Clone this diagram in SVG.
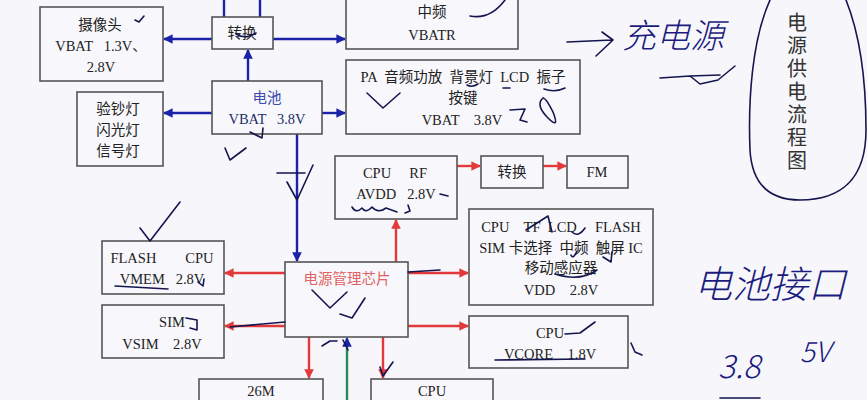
<svg xmlns="http://www.w3.org/2000/svg" width="867" height="400" viewBox="0 0 867 400" xml:space="preserve">
<style>
.bg{fill:#f7f7fb}
.box{fill:#f8f8fc;stroke:#555;stroke-width:1.6}
.t{font-family:"Liberation Serif","Noto Sans CJK SC",serif;font-size:14.5px;fill:#222;text-anchor:middle;white-space:pre}
.blu{stroke:#1a22a8;stroke-width:2.4;fill:none}
.red{stroke:#e23a3a;stroke-width:2.4;fill:none}
.ink{stroke:#151550;stroke-width:1.6;fill:none;stroke-linecap:round;stroke-linejoin:round}
.hw{font-family:"Noto Sans CJK SC","DejaVu Sans",sans-serif;fill:#1c1c80;font-style:italic;font-weight:300}
</style>
<defs>
<marker id="ab" viewBox="0 0 10 10" refX="9" refY="5" markerWidth="4" markerHeight="4" orient="auto"><path d="M0,0L10,5L0,10z" fill="#1a22a8"/></marker>
<marker id="ar" viewBox="0 0 10 10" refX="9" refY="5" markerWidth="4" markerHeight="4" orient="auto"><path d="M0,0L10,5L0,10z" fill="#e23a3a"/></marker>
</defs>
<rect class="bg" x="0" y="0" width="867" height="400"/>

<g id="connectors">
<line class="blu" x1="224" y1="0" x2="224" y2="17"/>
<line class="blu" x1="260" y1="0" x2="260" y2="17"/>
<line class="blu" x1="212" y1="39" x2="164" y2="39" marker-end="url(#ab)"/>
<line class="blu" x1="273" y1="39" x2="345" y2="39" marker-end="url(#ab)"/>
<line class="blu" x1="248" y1="81" x2="248" y2="50" marker-end="url(#ab)"/>
<line class="blu" x1="212" y1="113" x2="164" y2="113" marker-end="url(#ab)"/>
<line class="blu" x1="322" y1="113" x2="345" y2="113" marker-end="url(#ab)"/>
<line class="blu" x1="297" y1="134" x2="297" y2="261" marker-end="url(#ab)"/>
<line class="red" x1="457" y1="166" x2="480" y2="166" marker-end="url(#ar)"/>
<line class="red" x1="543" y1="166" x2="566" y2="166" marker-end="url(#ar)"/>
<line class="red" x1="285" y1="273" x2="225" y2="273" marker-end="url(#ar)"/>
<line class="red" x1="285" y1="326" x2="225" y2="326" marker-end="url(#ar)"/>
<line class="red" x1="408" y1="273" x2="468" y2="273" marker-end="url(#ar)"/>
<line class="red" x1="408" y1="326" x2="468" y2="326" marker-end="url(#ar)"/>
<line class="red" x1="396" y1="262" x2="396" y2="220" marker-end="url(#ar)"/>
<line class="red" x1="309" y1="337" x2="309" y2="378" marker-end="url(#ar)"/>
<line class="red" x1="383" y1="337" x2="383" y2="378" marker-end="url(#ar)"/>
<line stroke="#2a8a5a" stroke-width="2.4" x1="347" y1="400" x2="347" y2="338" marker-end="url(#ab)"/>
</g>

<g id="camera"><rect class="box" x="40" y="7" width="123" height="74"/>
<text class="t" x="100" y="30">摄像头</text><text class="t" x="101" y="51">VBAT   1.3V、</text><text class="t" x="101" y="72">2.8V</text></g>
<g id="lamps"><rect class="box" x="77" y="92" width="86" height="74"/>
<text class="t" x="118" y="114">验钞灯</text><text class="t" x="118" y="135">闪光灯</text><text class="t" x="118" y="156">信号灯</text></g>
<g id="conv1"><rect class="box" x="212" y="17" width="61" height="32"/>
<text class="t" x="242" y="38">转换</text></g>
<g id="if"><rect class="box" x="346" y="-2" width="172" height="51"/>
<text class="t" x="432" y="17">中频</text><text class="t" x="432" y="40">VBATR</text></g>
<g id="battery"><rect class="box" x="212" y="81" width="110" height="53"/>
<text class="t" x="267" y="103" style="fill:#3a4ab0">电池</text><text class="t" x="267" y="124" style="fill:#22306a">VBAT   3.8V</text></g>
<g id="pa"><rect class="box" x="346" y="60" width="234" height="74"/>
<text class="t" x="463" y="82">PA  音频功放  背景灯  LCD  振子</text><text class="t" x="463" y="103">按键</text><text class="t" x="462" y="125">VBAT    3.8V</text></g>
<g id="cpurf"><rect class="box" x="335" y="156" width="122" height="63"/>
<text class="t" x="395" y="178">CPU     RF</text><text class="t" x="396" y="199">AVDD   2.8V</text></g>
<g id="conv2"><rect class="box" x="481" y="156" width="62" height="32"/>
<text class="t" x="512" y="177">转换</text></g>
<g id="fm"><rect class="box" x="567" y="156" width="61" height="32"/>
<text class="t" x="597" y="177">FM</text></g>
<g id="vdd"><rect class="box" x="469" y="209" width="184" height="96"/>
<text class="t" x="561" y="232">CPU    TF  LCD     FLASH</text><text class="t" x="561" y="253">SIM 卡选择  中频  触屏 IC</text><text class="t" x="561" y="273">移动感应器</text><text class="t" x="561" y="295">VDD    2.8V</text></g>
<g id="vcore"><rect class="box" x="469" y="316" width="159" height="52"/>
<text class="t" x="550" y="338">CPU</text><text class="t" x="550" y="359">VCORE    1.8V</text></g>
<g id="pmic"><rect class="box" x="285" y="262" width="123" height="75"/>
<text class="t" x="347" y="284" style="fill:#e06262">电源管理芯片</text></g>
<g id="flash"><rect class="box" x="102" y="241" width="122" height="53"/>
<text class="t" x="162" y="263">FLASH        CPU</text><text class="t" x="162" y="284">VMEM   2.8V</text></g>
<g id="sim"><rect class="box" x="102" y="305" width="122" height="53"/>
<text class="t" x="172" y="327">SIM</text><text class="t" x="162" y="349">VSIM    2.8V</text></g>
<g id="osc"><rect class="box" x="199" y="379" width="124" height="30"/>
<text class="t" x="261" y="396">26M</text></g>
<g id="cpu2"><rect class="box" x="371" y="379" width="122" height="30"/>
<text class="t" x="432" y="396">CPU</text></g>

<g id="title">
<path class="ink" d="M770,0 C752,40 748,100 750,150 C752,185 770,200 800,200 C840,200 866,180 866,130 C866,70 858,30 846,0"/>
<text x="797" y="12" style="font-family:'Noto Sans CJK SC',sans-serif;font-size:20px;fill:#333;writing-mode:vertical-rl;letter-spacing:3px">电源供电流程图</text>
</g>

<g id="annotations">
<path class="ink" d="M135,20 L139,22 L144,16"/>
<path class="ink" d="M236,34 Q245,40 256,33"/>
<path class="ink" d="M470,16 Q490,20 505,0"/>
<path class="ink" d="M250,132 L262,138 L263,128"/>
<path class="ink" d="M225,148 L230,160 L246,148"/>
<path class="ink" d="M367,93 L383,108 L400,93"/>
<path class="ink" d="M467,85 Q472,88 478,84"/>
<path class="ink" d="M503,88 L510,88"/>
<path class="ink" d="M544,89 Q555,93 565,88"/>
<path class="ink" d="M510,110 L525,109 L520,120 L527,122"/>
<path class="ink" d="M543,98 Q535,105 548,118 Q560,130 553,112 Q546,98 543,98"/>
<path class="ink" d="M567,42 L612,40 M602,32 L613,40 L596,56"/>
<path class="ink" d="M660,78 L690,76 L700,84 L718,80 L735,66 M690,76 L720,75"/>
<path class="ink" d="M277,173 L305,173 M287,182 L297,200 L313,165"/>
<path class="ink" d="M140,228 L150,241 L180,202"/>
<path class="ink" d="M115,286 L168,289"/>
<path class="ink" d="M198,282 L203,286 L204,279"/>
<path class="ink" d="M186,318 L197,320 L197,330 L190,328"/>
<path class="ink" d="M230,327 L285,322"/>
<path class="ink" d="M312,290 L330,308 L347,292"/>
<path class="ink" d="M340,314 L352,318 L365,298"/>
<path class="ink" d="M352,207 Q356,214 362,208 Q366,214 372,207 Q378,214 386,208 L397,212"/>
<path class="ink" d="M408,205 L410,211 L405,213"/>
<path class="ink" d="M440,194 L448,196"/>
<path class="ink" d="M408,272 L440,270"/>
<path class="ink" d="M495,360 L585,359"/>
<path class="ink" d="M565,334 L580,333 L595,322"/>
<path class="ink" d="M631,343 L635,352 L642,355"/>
<path class="ink" d="M322,346 L330,341 L337,341 M343,340 L348,350"/>
<path class="ink" d="M380,367 L383,376 L393,362"/>
<path class="ink" d="M526,230 L548,216 L552,232 M572,232 Q578,238 585,228"/>
<path class="ink" d="M571,255 Q573,260 577,251 M603,257 L611,262 L612,252"/>
<path class="ink" d="M555,274 Q580,282 597,270"/>
<path class="ink" d="M720,398 L760,398"/>
<text class="hw" x="622" y="48" font-size="34">充电源</text>
<text class="hw" x="694" y="298" font-size="38">电池接口</text>
<text class="hw" x="718" y="378" font-size="32">3.8</text>
<text class="hw" x="800" y="362" font-size="28">5V</text>
</g>
</svg>
